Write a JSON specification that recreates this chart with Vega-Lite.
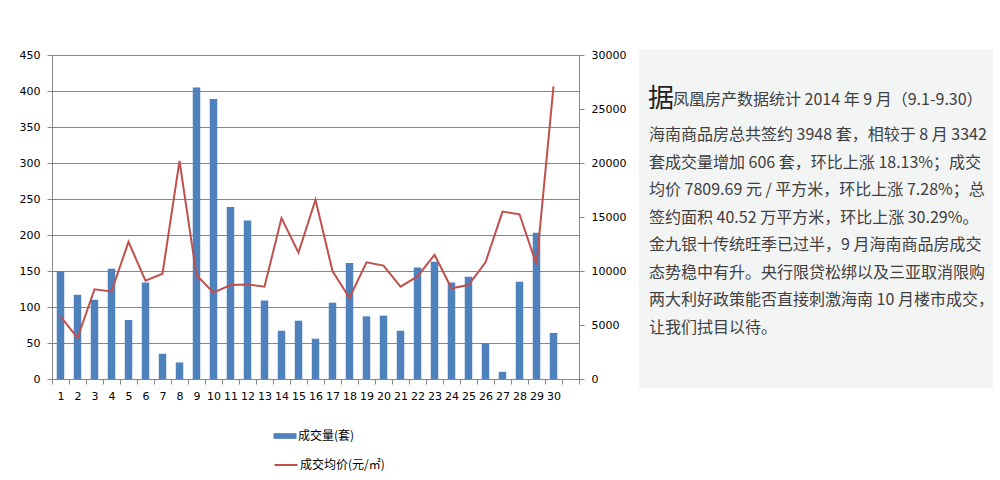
{
  "$schema": "https://vega.github.io/schema/vega-lite/v6.json",
  "background": "white",
  "padding": {"left": 18, "top": 48, "right": 0, "bottom": 0},
  "datasets": {
    "sales": [
      {"day": 1, "count": 150, "price": 5800},
      {"day": 2, "count": 117, "price": 3800},
      {"day": 3, "count": 110, "price": 8300},
      {"day": 4, "count": 153, "price": 8100},
      {"day": 5, "count": 82, "price": 12700},
      {"day": 6, "count": 134, "price": 9100},
      {"day": 7, "count": 35, "price": 9750},
      {"day": 8, "count": 23, "price": 20200},
      {"day": 9, "count": 405, "price": 9600},
      {"day": 10, "count": 389, "price": 8000},
      {"day": 11, "count": 239, "price": 8700},
      {"day": 12, "count": 220, "price": 8750},
      {"day": 13, "count": 109, "price": 8550},
      {"day": 14, "count": 67, "price": 14900},
      {"day": 15, "count": 81, "price": 11700},
      {"day": 16, "count": 56, "price": 16600},
      {"day": 17, "count": 106, "price": 10000},
      {"day": 18, "count": 161, "price": 7500},
      {"day": 19, "count": 87, "price": 10800},
      {"day": 20, "count": 88, "price": 10500},
      {"day": 21, "count": 67, "price": 8550},
      {"day": 22, "count": 155, "price": 9500},
      {"day": 23, "count": 163, "price": 11500},
      {"day": 24, "count": 134, "price": 8400},
      {"day": 25, "count": 142, "price": 8700},
      {"day": 26, "count": 50, "price": 10800},
      {"day": 27, "count": 10, "price": 15500},
      {"day": 28, "count": 135, "price": 15250},
      {"day": 29, "count": 203, "price": 10600},
      {"day": 30, "count": 64, "price": 27100}
    ],
    "panel": [
      {"row": 1, "part": "big", "text": "据"},
      {"row": 1, "part": "head", "text": "凤凰房产数据统计 2014 年 9 月（9.1-9.30）"},
      {"row": 2, "part": "body", "text": "海南商品房总共签约 3948 套，相较于 8 月 3342"},
      {"row": 3, "part": "body", "text": "套成交量增加 606 套，环比上涨 18.13%；成交"},
      {"row": 4, "part": "body", "text": "均价 7809.69 元 / 平方米，环比上涨 7.28%；总"},
      {"row": 5, "part": "body", "text": "签约面积 40.52 万平方米，环比上涨 30.29%。"},
      {"row": 6, "part": "body", "text": "金九银十传统旺季已过半，9 月海南商品房成交"},
      {"row": 7, "part": "body", "text": "态势稳中有升。央行限贷松绑以及三亚取消限购"},
      {"row": 8, "part": "body", "text": "两大利好政策能否直接刺激海南 10 月楼市成交，"},
      {"row": 9, "part": "body", "text": "让我们拭目以待。"}
    ]
  },
  "spacing": 12,
  "hconcat": [
    {
      "width": 527,
      "height": 324,
      "data": {"name": "sales"},
      "encoding": {
        "x": {
          "field": "day",
          "type": "ordinal",
          "scale": {"domain": [1,2,3,4,5,6,7,8,9,10,11,12,13,14,15,16,17,18,19,20,21,22,23,24,25,26,27,28,29,30,31], "paddingInner": 0, "paddingOuter": 0},
          "axis": {
            "title": null,
            "labelAngle": 0,
            "tickBand": "extent",
            "labelExpr": "datum.value == 31 ? '' : datum.label",
            "domainColor": "#868686",
            "tickColor": "#868686",
            "tickSize": 5,
            "labelPadding": 6,
            "labelFont": "DejaVu Sans",
            "labelFontSize": 11,
            "labelColor": "#000000",
            "grid": false
          }
        }
      },
      "layer": [
        {
          "mark": {"type": "bar", "width": {"band": 0.44}},
          "encoding": {
            "y": {
              "field": "count",
              "type": "quantitative",
              "scale": {"domain": [0, 450], "nice": false},
              "axis": {
                "title": null,
                "values": [0, 50, 100, 150, 200, 250, 300, 350, 400, 450],
                "grid": true,
                "gridColor": "#868686",
                "gridWidth": 1,
                "domainColor": "#868686",
                "tickColor": "#868686",
                "tickSize": 5,
                "labelPadding": 7,
                "labelFlush": false,
                "labelFont": "DejaVu Sans",
                "labelFontSize": 11,
                "labelColor": "#000000"
              }
            },
            "fill": {
              "datum": "成交量(套)",
              "type": "nominal",
              "scale": {"range": ["#4f81bd"]},
              "legend": {
                "title": null,
                "orient": "none",
                "legendX": 227,
                "legendY": 375,
                "symbolType": "M-2,-0.5H2V0.5H-2Z",
                "symbolSize": 132,
                "symbolStrokeWidth": 0,
                "labelOffset": 7,
                "labelFont": "Noto Sans CJK SC",
                "labelFontSize": 12,
                "labelColor": "#000000"
              }
            }
          }
        },
        {
          "mark": {"type": "line", "strokeWidth": 2},
          "encoding": {
            "y": {
              "field": "price",
              "type": "quantitative",
              "scale": {"domain": [0, 30000], "nice": false},
              "axis": {
                "title": null,
                "orient": "right",
                "format": "d",
                "values": [0, 5000, 10000, 15000, 20000, 25000, 30000],
                "grid": false,
                "domainColor": "#868686",
                "tickColor": "#868686",
                "tickSize": 5,
                "labelPadding": 7,
                "labelFlush": false,
                "labelFont": "DejaVu Sans",
                "labelFontSize": 11,
                "labelColor": "#000000"
              }
            },
            "stroke": {
              "datum": "成交均价(元/㎡)",
              "type": "nominal",
              "scale": {"range": ["#c0504d"]},
              "legend": {
                "title": null,
                "orient": "none",
                "legendX": 227,
                "legendY": 403,
                "symbolType": "M-2,0H2",
                "symbolSize": 132,
                "symbolStrokeWidth": 2,
                "symbolFillColor": "transparent",
                "labelOffset": 7,
                "labelFont": "Noto Sans CJK SC",
                "labelFontSize": 12,
                "labelColor": "#000000"
              }
            }
          }
        }
      ],
      "resolve": {"scale": {"y": "independent"}}
    },
    {
      "width": 354,
      "height": 333,
      "view": {"stroke": null, "fill": "#f3f4f4"},
      "layer": [
        {
          "data": {"values": [{"panel": "bg"}]},
          "mark": {"type": "rect", "fill": "#f3f4f4", "stroke": null},
          "encoding": {
            "y": {"datum": -1.1012, "type": "quantitative", "scale": {"domain": [-0.9017, 11.176], "reverse": true, "nice": false, "zero": false}, "axis": null},
            "y2": {"datum": 11.176}
          }
        },
        {
          "data": {"name": "panel"},
          "transform": [{"filter": "datum.part == 'big'"}],
          "mark": {"type": "text", "align": "left", "baseline": "middle", "font": "Noto Sans CJK SC", "fontSize": 26, "color": "#222222", "dx": -168, "dy": -8},
          "encoding": {
            "y": {"field": "row", "type": "quantitative", "axis": null},
            "text": {"field": "text"}
          }
        },
        {
          "data": {"name": "panel"},
          "transform": [{"filter": "datum.part == 'head'"}],
          "mark": {"type": "text", "align": "left", "baseline": "middle", "font": "Noto Sans CJK SC", "fontSize": 16, "color": "#404040", "dx": -143, "dy": -7},
          "encoding": {
            "y": {"field": "row", "type": "quantitative", "axis": null},
            "text": {"field": "text"}
          }
        },
        {
          "data": {"name": "panel"},
          "transform": [{"filter": "datum.part == 'body'"}],
          "mark": {"type": "text", "align": "left", "baseline": "middle", "font": "Noto Sans CJK SC", "fontSize": 16, "color": "#404040", "dx": -167},
          "encoding": {
            "y": {"field": "row", "type": "quantitative", "axis": null},
            "text": {"field": "text"}
          }
        }
      ]
    }
  ]
}
